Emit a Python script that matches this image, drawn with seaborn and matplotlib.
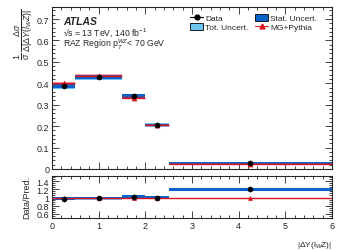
import numpy as np
import pandas as pd
import matplotlib
matplotlib.use("Agg")
import matplotlib.pyplot as plt
import seaborn as sns
from matplotlib.patches import Patch
from matplotlib.lines import Line2D

# bins of |dY(l_W Z)|
bin_lo = [0.0, 0.5, 1.5, 2.0, 2.5]
bin_hi = [0.5, 1.5, 2.0, 2.5, 6.0]
centers = [0.25, 1.0, 1.75, 2.25, 4.25]

# normalised cross section
data_val = [0.388, 0.428, 0.340, 0.205, 0.027]
data_stat = [0.010, 0.009, 0.009, 0.006, 0.005]
data_tot = [0.014, 0.012, 0.012, 0.008, 0.007]
pred_val = [0.399, 0.435, 0.333, 0.205, 0.024]
pred_err = [0.007, 0.006, 0.006, 0.004, 0.003]

# ratio panel
ratio_val = [0.975, 0.985, 1.025, 1.0, 1.2]
ratio_stat = [0.03, 0.025, 0.03, 0.03, 0.03]
ratio_tot = [0.045, 0.04, 0.045, 0.045, 0.045]
ratio_pred = [0.985, 0.99, 0.985, 0.99, 0.98]
ratio_pred_err = [0.02, 0.015, 0.02, 0.015, 0.03]

c_stat = "#0a64c8"
c_tot = "#6ec4f0"
c_red = "#e0141e"

sns.set_style("ticks")
plt.rcParams["font.family"] = ["Liberation Sans", "DejaVu Sans"]
plt.rcParams["mathtext.fontset"] = "custom"
plt.rcParams["mathtext.rm"] = "Liberation Sans"
plt.rcParams["mathtext.it"] = "Liberation Sans:italic"

fig = plt.figure(figsize=(3.49, 2.51), dpi=100)
ax = fig.add_axes([0.149, 0.323, 0.802, 0.645])
rx = fig.add_axes([0.149, 0.128, 0.802, 0.167])

widths = np.array(bin_hi) - np.array(bin_lo)
df = pd.DataFrame({"x": centers, "y": data_val, "r": ratio_val,
                   "p": pred_val, "rp": ratio_pred})


def draw_panel(a, val, stat, tot, pval, perr, pmark, red_full):
    val, stat, tot = np.array(val), np.array(stat), np.array(tot)
    a.bar(bin_lo, 2 * tot, bottom=val - tot, width=widths, align="edge",
          color=c_tot, lw=0, zorder=1)
    a.bar(bin_lo, 2 * stat, bottom=val - stat, width=widths, align="edge",
          color=c_stat, lw=0, zorder=2)
    if red_full:
        a.axhline(1.0, color=c_red, lw=1.0, zorder=3)
    else:
        pval, perr = np.array(pval), np.array(perr)
        a.bar(bin_lo, 2 * perr, bottom=pval - perr, width=widths, align="edge",
              color=c_red, alpha=0.35, lw=0, zorder=3)
        a.hlines(pval, bin_lo, bin_hi, color=c_red, lw=1.0, zorder=3)
    a.errorbar(centers, pmark, yerr=perr, fmt="none", ecolor=c_red,
               elinewidth=0.8, zorder=4)


draw_panel(ax, data_val, data_stat, data_tot, pred_val, pred_err, pred_val, False)
sns.scatterplot(data=df, x="x", y="p", marker="^", color=c_red, s=14,
                edgecolor=c_red, ax=ax, zorder=5)
sns.scatterplot(data=df, x="x", y="y", marker="o", color="black", s=14,
                edgecolor="black", ax=ax, zorder=6)

draw_panel(rx, ratio_val, ratio_stat, ratio_tot, None, ratio_pred_err, ratio_pred, True)
sns.scatterplot(data=df, x="x", y="rp", marker="^", color=c_red, s=10,
                edgecolor=c_red, ax=rx, zorder=5)
sns.scatterplot(data=df, x="x", y="r", marker="o", color="black", s=14,
                edgecolor="black", ax=rx, zorder=6)

for a in (ax, rx):
    a.set_xlim(0, 6)
    a.minorticks_on()
    a.tick_params(which="both", direction="in", top=True, right=True,
                  labelsize=6.5, pad=2, width=0.6)
    a.tick_params(which="major", length=5)
    a.tick_params(which="minor", length=2.5)
    for s in a.spines.values():
        s.set_linewidth(0.8)

ax.set_ylim(0, 0.756)
ax.set_yticks([0, 0.1, 0.2, 0.3, 0.4, 0.5, 0.6, 0.7])
ax.set_yticklabels(["0", "0.1", "0.2", "0.3", "0.4", "0.5", "0.6", "0.7"])
ax.set_xticklabels([])
ax.set_xlabel("")
ax.set_ylabel(r"$\frac{1}{\sigma}\,\frac{\Delta\sigma}{\Delta|\Delta Y(l_W Z)|}$",
              fontsize=9, loc="top", labelpad=1)

rx.set_ylim(0.5, 1.53)
rx.set_yticks([0.6, 0.8, 1.0, 1.2, 1.4])
rx.set_yticklabels(["0.6", "0.8", "1", "1.2", "1.4"])
rx.set_xticks([0, 1, 2, 3, 4, 5, 6])
rx.set_ylabel("Data/Pred.", fontsize=6.5, labelpad=4)
rx.set_xlabel(r"|ΔY(l$_{W}$Z)|", fontsize=6, loc="right", labelpad=7)

ax.text(0.04, 0.915, "ATLAS", transform=ax.transAxes, fontsize=7.5,
        fontweight="bold", fontstyle="italic", va="center")
ax.text(0.04, 0.845, "\u221As = 13 TeV, 140 fb$^{-1}$", transform=ax.transAxes,
        fontsize=6.2, va="center")
ax.text(0.04, 0.772, r"RAZ Region p$_{T}^{WZ}$< 70 GeV", transform=ax.transAxes,
        fontsize=6.2, va="center")

handles = [
    Line2D([], [], color="black", marker="o", markersize=3.5, lw=0.8),
    Patch(facecolor=c_tot, edgecolor="black", lw=0.6),
    Patch(facecolor=c_stat, edgecolor="black", lw=0.6),
    Line2D([], [], color=c_red, marker="^", markersize=3.5, lw=0.8),
]
labels = ["Data", "Tot. Uncert.", "Stat. Uncert.", "MG+Pythia"]
ax.legend(handles, labels, ncol=2, loc="upper right", bbox_to_anchor=(0.97, 1.0),
          frameon=False, fontsize=6, handlelength=1.6, handleheight=0.9,
          handletextpad=0.2, columnspacing=0.8, labelspacing=0.1,
          borderaxespad=0.4)

fig.savefig("out.png", dpi=100)
